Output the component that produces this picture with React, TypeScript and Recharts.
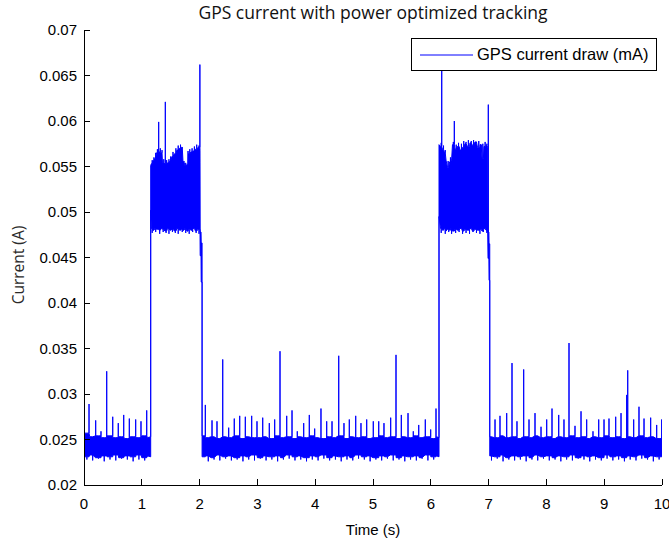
import React from "react";
import { ComposedChart, Area, XAxis, YAxis, Legend } from "recharts";

const FONT = '"Liberation Sans", Arial, sans-serif';
const TITLE_FONT = '"Open Sans", "Noto Sans", sans-serif';
const BLUE = "#0000ff";

const xTicks = [0, 1, 2, 3, 4, 5, 6, 7, 8, 9, 10];
const yTicks = [0.02, 0.025, 0.03, 0.035, 0.04, 0.045, 0.05, 0.055, 0.06, 0.065, 0.07];
const yTickLabels = ["0.02", "0.025", "0.03", "0.035", "0.04", "0.045", "0.05", "0.055", "0.06", "0.065", "0.07"];

// dense noise band: [time (s), lower edge (A), upper edge (A)]
const lowSeg1: [number, number, number][] = [
  [0.0, 0.0231, 0.0257], [0.1, 0.0233, 0.0253], [0.2, 0.023, 0.0254], [0.3, 0.0232, 0.0252],
  [0.4, 0.0231, 0.0254], [0.5, 0.0233, 0.0252], [0.6, 0.023, 0.0253], [0.7, 0.0232, 0.0251],
  [0.8, 0.0231, 0.0253], [0.9, 0.0233, 0.0252], [1.0, 0.023, 0.0254], [1.1, 0.0232, 0.0252],
  [1.154, 0.0231, 0.0253],
];

const highSeg1: [number, number, number][] = [
  [1.154, 0.0502, 0.0551], [1.165, 0.0482, 0.0553], [1.194, 0.048, 0.0556], [1.228, 0.0482, 0.0559],
  [1.254, 0.0481, 0.0565], [1.298, 0.048, 0.0566], [1.341, 0.0482, 0.0565], [1.358, 0.0481, 0.0554],
  [1.401, 0.0479, 0.0553], [1.445, 0.0482, 0.0554], [1.488, 0.048, 0.0556], [1.522, 0.0481, 0.0561],
  [1.566, 0.0479, 0.0564], [1.609, 0.0482, 0.0568], [1.652, 0.048, 0.057], [1.687, 0.0481, 0.0571],
  [1.713, 0.048, 0.0555], [1.747, 0.0482, 0.0551], [1.782, 0.0479, 0.0552], [1.808, 0.0481, 0.0564],
  [1.851, 0.048, 0.0566], [1.886, 0.0482, 0.0567], [1.929, 0.0479, 0.0569], [1.972, 0.0481, 0.0571],
  [2.007, 0.048, 0.0568],
];

const tail1: [number, number, number][] = [
  [2.01, 0.0452, 0.0478], [2.025, 0.0452, 0.0478], [2.028, 0.0423, 0.0466], [2.043, 0.0423, 0.0466],
];

const lowSeg2: [number, number, number][] = [
  [2.043, 0.0231, 0.0254], [2.1, 0.0232, 0.0252], [2.2, 0.023, 0.0253], [2.3, 0.0233, 0.0251],
  [2.4, 0.0231, 0.0253], [2.5, 0.0232, 0.0252], [2.6, 0.023, 0.0254], [2.7, 0.0232, 0.0251],
  [2.8, 0.0231, 0.0253], [2.9, 0.0233, 0.0252], [3.0, 0.023, 0.0252], [3.1, 0.0232, 0.0253],
  [3.2, 0.0231, 0.0251], [3.3, 0.0232, 0.0254], [3.4, 0.023, 0.0252], [3.5, 0.0233, 0.0253],
  [3.6, 0.0231, 0.0251], [3.7, 0.0232, 0.0253], [3.8, 0.023, 0.0252], [3.9, 0.0232, 0.0254],
  [4.0, 0.0231, 0.0252], [4.1, 0.0233, 0.0251], [4.2, 0.023, 0.0253], [4.3, 0.0232, 0.0252],
  [4.4, 0.0231, 0.0254], [4.5, 0.0232, 0.0251], [4.6, 0.023, 0.0253], [4.7, 0.0233, 0.0252],
  [4.8, 0.0231, 0.0253], [4.9, 0.0232, 0.0251], [5.0, 0.023, 0.0252], [5.1, 0.0232, 0.0254],
  [5.2, 0.0231, 0.0252], [5.3, 0.0233, 0.0253], [5.4, 0.023, 0.0251], [5.5, 0.0232, 0.0253],
  [5.6, 0.0231, 0.0252], [5.7, 0.0232, 0.0254], [5.8, 0.023, 0.0252], [5.9, 0.0233, 0.0253],
  [6.0, 0.0231, 0.0251], [6.1, 0.0232, 0.0253], [6.142, 0.0231, 0.0252],
];

const highSeg2: [number, number, number][] = [
  [6.142, 0.0495, 0.0574], [6.168, 0.0482, 0.0572], [6.202, 0.048, 0.0569], [6.237, 0.0482, 0.0565],
  [6.263, 0.0479, 0.0557], [6.289, 0.0481, 0.0549], [6.324, 0.048, 0.0555], [6.349, 0.0482, 0.0557],
  [6.375, 0.0479, 0.0574], [6.419, 0.0481, 0.0569], [6.462, 0.048, 0.0572], [6.505, 0.0482, 0.0568],
  [6.548, 0.0479, 0.0571], [6.592, 0.0481, 0.0575], [6.635, 0.048, 0.0572], [6.678, 0.0482, 0.0576],
  [6.722, 0.0479, 0.0573], [6.765, 0.0481, 0.0577], [6.808, 0.048, 0.0571], [6.851, 0.0481, 0.0574],
  [6.886, 0.0479, 0.0559], [6.92, 0.0482, 0.0572], [6.955, 0.048, 0.0573], [6.984, 0.0481, 0.0571],
];

const tail2: [number, number, number][] = [
  [6.99, 0.0449, 0.0478], [7.005, 0.0449, 0.0478], [7.008, 0.0425, 0.0465], [7.02, 0.0425, 0.0465],
];

const lowSeg3: [number, number, number][] = [
  [7.02, 0.0232, 0.0253], [7.1, 0.0231, 0.0252], [7.2, 0.0233, 0.0254], [7.3, 0.023, 0.0252],
  [7.4, 0.0232, 0.0253], [7.5, 0.0231, 0.0251], [7.6, 0.0232, 0.0253], [7.7, 0.023, 0.0252],
  [7.8, 0.0233, 0.0254], [7.9, 0.0231, 0.0252], [8.0, 0.0232, 0.0253], [8.1, 0.023, 0.0251],
  [8.2, 0.0232, 0.0253], [8.3, 0.0231, 0.0252], [8.4, 0.0233, 0.0254], [8.5, 0.023, 0.0252],
  [8.6, 0.0232, 0.0253], [8.7, 0.0231, 0.0251], [8.8, 0.0232, 0.0253], [8.9, 0.023, 0.0252],
  [9.0, 0.0233, 0.0254], [9.1, 0.0231, 0.0252], [9.2, 0.0232, 0.0253], [9.3, 0.023, 0.0251],
  [9.4, 0.0232, 0.0253], [9.5, 0.0231, 0.0252], [9.6, 0.0233, 0.0254], [9.7, 0.023, 0.0252],
  [9.8, 0.0232, 0.0253], [9.9, 0.0231, 0.0251], [10.0, 0.0232, 0.0253],
];

// upward spikes: [time, peak]
const spikes: [number, number][] = [
  [0.087, 0.0289], [0.202, 0.0271], [0.294, 0.0259], [0.393, 0.0325], [0.497, 0.0275], [0.593, 0.0268],
  [0.687, 0.0277], [0.784, 0.0273], [0.894, 0.0272], [0.986, 0.027], [1.085, 0.0282],
  [1.18, 0.0557], [1.21, 0.056], [1.24, 0.0565], [1.27, 0.0569], [1.292, 0.0599], [1.32, 0.057],
  [1.35, 0.0568], [1.38, 0.0558], [1.407, 0.0621], [1.43, 0.0557], [1.47, 0.0558], [1.5, 0.0561],
  [1.54, 0.0566], [1.59, 0.057], [1.63, 0.0573], [1.67, 0.0574], [1.7, 0.057], [1.73, 0.0556],
  [1.76, 0.0554], [1.8, 0.0567], [1.83, 0.0569], [1.87, 0.057], [1.91, 0.0572], [1.95, 0.0574],
  [1.99, 0.0573], [2.005, 0.0662],
  [2.099, 0.0288], [2.215, 0.0271], [2.301, 0.027], [2.4, 0.0338], [2.503, 0.0263], [2.6, 0.0273],
  [2.694, 0.0276], [2.791, 0.0275], [2.901, 0.0276], [2.993, 0.027], [3.092, 0.0274], [3.206, 0.0268],
  [3.299, 0.0272], [3.391, 0.0347], [3.507, 0.0276], [3.599, 0.0282], [3.69, 0.0259], [3.801, 0.0268],
  [3.898, 0.0277], [3.991, 0.0262], [4.1, 0.0284], [4.199, 0.027], [4.291, 0.027], [4.407, 0.0342],
  [4.498, 0.0268], [4.59, 0.0272], [4.701, 0.0276], [4.792, 0.0268], [4.891, 0.0272], [5.005, 0.027],
  [5.099, 0.027], [5.19, 0.0268], [5.306, 0.0274], [5.398, 0.0343], [5.49, 0.0277], [5.606, 0.0279],
  [5.697, 0.0259], [5.791, 0.0266], [5.905, 0.0272], [5.998, 0.0261], [6.09, 0.0284],
  [6.18, 0.0576], [6.189, 0.0668], [6.22, 0.0573], [6.25, 0.0568], [6.3, 0.0556], [6.34, 0.056],
  [6.39, 0.0577], [6.407, 0.06], [6.44, 0.0574], [6.48, 0.0576], [6.53, 0.0575], [6.57, 0.0578],
  [6.61, 0.0577], [6.65, 0.0579], [6.7, 0.0578], [6.74, 0.0579], [6.79, 0.0576], [6.83, 0.0578],
  [6.87, 0.0568], [6.9, 0.0575], [6.94, 0.0577], [6.97, 0.0575], [6.995, 0.0618],
  [7.111, 0.0272], [7.197, 0.0276], [7.313, 0.0279], [7.405, 0.0334], [7.491, 0.027], [7.607, 0.0327],
  [7.699, 0.0272], [7.803, 0.0279], [7.907, 0.0264], [8.005, 0.0272], [8.097, 0.0284], [8.213, 0.0277],
  [8.304, 0.0272], [8.391, 0.0356], [8.495, 0.0265], [8.599, 0.0281], [8.697, 0.0272], [8.806, 0.0259],
  [8.905, 0.0272], [8.997, 0.0272], [9.083, 0.0273], [9.199, 0.0275], [9.291, 0.0279], [9.389, 0.0299],
  [9.407, 0.0326], [9.51, 0.0272], [9.602, 0.0286], [9.689, 0.0273], [9.804, 0.0274], [9.908, 0.0266],
  [9.995, 0.0272],
];

// downward dips on the lower edge: [time, trough]
const dips: [number, number][] = [
  [0.05, 0.0228], [0.15, 0.0227], [0.25, 0.0229], [0.35, 0.0226], [0.45, 0.0228], [0.55, 0.0227],
  [0.65, 0.0229], [0.75, 0.0228], [0.85, 0.0226], [0.95, 0.0228], [1.05, 0.0227],
  [1.18, 0.0477], [1.24, 0.0478], [1.31, 0.0476], [1.37, 0.0478], [1.42, 0.0477], [1.47, 0.0476],
  [1.53, 0.0478], [1.58, 0.0477], [1.63, 0.0476], [1.7, 0.0478], [1.76, 0.0477], [1.82, 0.0476],
  [1.88, 0.0478], [1.94, 0.0477], [1.99, 0.0476],
  [2.15, 0.0226], [2.25, 0.0228], [2.35, 0.0227], [2.45, 0.0229], [2.55, 0.0227], [2.65, 0.0228],
  [2.75, 0.0226], [2.85, 0.0228], [2.95, 0.0227], [3.05, 0.0229], [3.15, 0.0227], [3.25, 0.0228],
  [3.35, 0.0226], [3.45, 0.0228], [3.55, 0.0229], [3.65, 0.0227], [3.75, 0.0228], [3.85, 0.0226],
  [3.95, 0.0228], [4.05, 0.0227], [4.15, 0.0229], [4.25, 0.0227], [4.35, 0.0228], [4.45, 0.0226],
  [4.55, 0.0228], [4.65, 0.0227], [4.75, 0.0229], [4.85, 0.0228], [4.95, 0.0226], [5.05, 0.0228],
  [5.15, 0.0227], [5.25, 0.0229], [5.35, 0.0227], [5.45, 0.0228], [5.55, 0.0226], [5.65, 0.0228],
  [5.75, 0.0227], [5.85, 0.0229], [5.95, 0.0227], [6.05, 0.0228],
  [6.18, 0.0477], [6.25, 0.0476], [6.31, 0.0478], [6.36, 0.0476], [6.43, 0.0477], [6.49, 0.0478],
  [6.55, 0.0476], [6.61, 0.0477], [6.67, 0.0476], [6.73, 0.0478], [6.79, 0.0477], [6.85, 0.0476],
  [6.91, 0.0478], [6.97, 0.0477],
  [7.05, 0.0227], [7.15, 0.0229], [7.25, 0.0226], [7.35, 0.0228], [7.45, 0.0227], [7.55, 0.0228],
  [7.65, 0.0226], [7.75, 0.0228], [7.85, 0.0227], [7.95, 0.0229], [8.05, 0.0227], [8.15, 0.0228],
  [8.25, 0.0226], [8.35, 0.0228], [8.45, 0.0227], [8.55, 0.0229], [8.65, 0.0228], [8.75, 0.0226],
  [8.85, 0.0228], [8.95, 0.0227], [9.05, 0.0229], [9.15, 0.0227], [9.25, 0.0228], [9.35, 0.0226],
  [9.45, 0.0228], [9.55, 0.0227], [9.65, 0.0229], [9.75, 0.0228], [9.85, 0.0226], [9.95, 0.0228],
];

type Row = { t: number; band: [number, number] };

function buildRows(): Row[] {
  const band = [...lowSeg1, ...highSeg1, ...tail1, ...lowSeg2, ...highSeg2, ...tail2, ...lowSeg3];
  const events: { t: number; kind: "b" | "s" | "d"; a: number; b: number }[] = [];
  band.forEach(([t, lo, hi]) => events.push({ t, kind: "b", a: lo, b: hi }));
  spikes.forEach(([t, v]) => events.push({ t, kind: "s", a: v, b: v }));
  dips.forEach(([t, v]) => events.push({ t, kind: "d", a: v, b: v }));
  events.sort((p, q) => p.t - q.t);

  const rows: Row[] = [];
  let lo = band[0][1];
  let hi = band[0][2];
  for (const e of events) {
    if (e.kind === "b") {
      lo = e.a;
      hi = e.b;
      rows.push({ t: e.t, band: [lo, hi] });
    } else if (e.kind === "s") {
      rows.push({ t: e.t, band: [lo, hi] }, { t: e.t, band: [lo, e.a] }, { t: e.t, band: [lo, hi] });
    } else {
      rows.push({ t: e.t, band: [lo, hi] }, { t: e.t, band: [e.a, hi] }, { t: e.t, band: [lo, hi] });
    }
  }
  return rows;
}

const rows = buildRows();

const BottomTick = (props: any) => {
  const { x, y, payload } = props;
  return (
    <g>
      <line x1={x} y1={y} x2={x} y2={y - 6} stroke="#000" shapeRendering="crispEdges" />
      <text x={x} y={y + 24} textAnchor="middle" fontFamily={FONT} fontSize={15} fill="#000">
        {payload.value}
      </text>
    </g>
  );
};

const TopTick = (props: any) => {
  const { x, y } = props;
  return <line x1={x} y1={y} x2={x} y2={y + 6} stroke="#000" shapeRendering="crispEdges" />;
};

const LeftTick = (props: any) => {
  const { x, y, index } = props;
  return (
    <g>
      <line x1={x} y1={y} x2={x + 6} y2={y} stroke="#000" shapeRendering="crispEdges" />
      <text x={x - 7} y={y + 5} textAnchor="end" fontFamily={FONT} fontSize={15} fill="#000">
        {yTickLabels[index]}
      </text>
    </g>
  );
};

const RightTick = (props: any) => {
  const { x, y } = props;
  return <line x1={x} y1={y} x2={x - 6} y2={y} stroke="#000" shapeRendering="crispEdges" />;
};

const axisLine = { stroke: "#000", shapeRendering: "crispEdges" } as any;

const LegendBox = () => (
  <div
    style={{
      boxSizing: "border-box",
      width: 246,
      height: 33,
      border: "1px solid #000",
      background: "#fff",
      display: "flex",
      alignItems: "center",
    }}
  >
    <svg width={61} height={10} style={{ display: "block" }}>
      <line x1={8} x2={61} y1={5} y2={5} stroke={BLUE} strokeWidth={1} />
    </svg>
    <span style={{ fontFamily: FONT, fontSize: 16.5, color: "#000", marginLeft: 4, whiteSpace: "nowrap" }}>
      GPS current draw (mA)
    </span>
  </div>
);

export default function App() {
  return (
    <div style={{ position: "absolute", left: 0, top: 0, width: 669, height: 545, background: "#fff" }}>
      <div
        style={{
          position: "absolute",
          left: 84,
          top: 0,
          width: 578,
          textAlign: "center",
          fontFamily: TITLE_FONT,
          fontSize: 17.5,
          lineHeight: "24px",
          color: "#111",
        }}
      >
        GPS current with power optimized tracking
      </div>
      <div
        style={{
          position: "absolute",
          left: 18,
          top: 265,
          transform: "translate(-50%, -50%) rotate(-90deg)",
          fontFamily: TITLE_FONT,
          fontSize: 15.5,
          color: "#2a2a2a",
          whiteSpace: "nowrap",
        }}
      >
        Current (A)
      </div>
      <div
        style={{
          position: "absolute",
          left: 84,
          top: 520,
          width: 578,
          textAlign: "center",
          fontFamily: FONT,
          fontSize: 15,
          lineHeight: "20px",
          color: "#000",
        }}
      >
        Time (s)
      </div>
      <div style={{ position: "absolute", left: 0, top: 0 }}>
        <ComposedChart width={669} height={545} data={rows} margin={{ top: 30, right: 7, bottom: 0, left: 0 }}>
          <XAxis
            xAxisId="x"
            dataKey="t"
            type="number"
            domain={[0, 10]}
            ticks={xTicks}
            interval={0}
            allowDataOverflow
            height={60}
            tickSize={0}
            tickMargin={0}
            tickLine={false}
            axisLine={axisLine}
            tick={BottomTick}
          />
          <XAxis
            xAxisId="top"
            orientation="top"
            dataKey="t"
            type="number"
            domain={[0, 10]}
            ticks={xTicks}
            interval={0}
            allowDataOverflow
            height={0}
            tickSize={0}
            tickMargin={0}
            tickLine={false}
            axisLine={axisLine}
            tick={TopTick}
          />
          <YAxis
            yAxisId="y"
            type="number"
            domain={[0.02, 0.07]}
            ticks={yTicks}
            interval={0}
            allowDataOverflow
            width={84}
            tickSize={0}
            tickMargin={0}
            tickLine={false}
            axisLine={axisLine}
            tick={LeftTick}
          />
          <YAxis
            yAxisId="right"
            orientation="right"
            type="number"
            domain={[0.02, 0.07]}
            ticks={yTicks}
            interval={0}
            allowDataOverflow
            width={0}
            tickSize={0}
            tickMargin={0}
            tickLine={false}
            axisLine={axisLine}
            tick={RightTick}
          />
          <Area
            xAxisId="x"
            yAxisId="y"
            type="linear"
            dataKey="band"
            name="GPS current draw (mA)"
            stroke={BLUE}
            strokeWidth={1}
            fill={BLUE}
            fillOpacity={1}
            dot={false}
            activeDot={false}
            isAnimationActive={false}
          />
          <Legend
            layout="horizontal"
            verticalAlign="middle"
            align="center"
            wrapperStyle={{ position: "absolute", left: 411, top: 38, width: 246, height: 33 }}
            content={() => <LegendBox />}
          />
        </ComposedChart>
      </div>
    </div>
  );
}
